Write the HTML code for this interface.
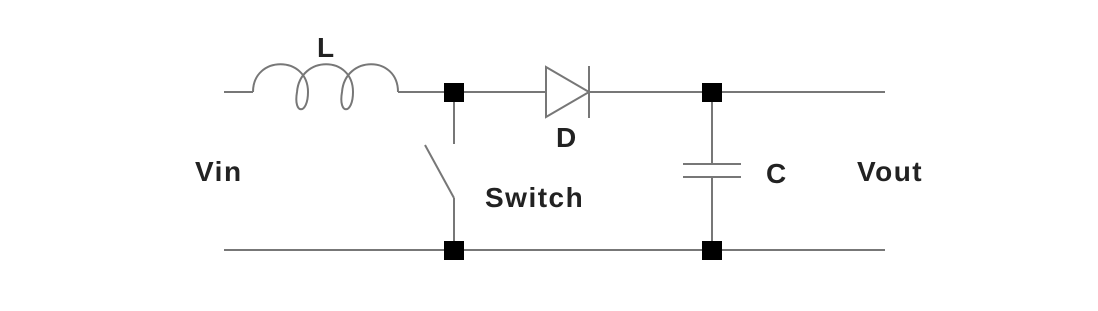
<!DOCTYPE html>
<html><head><style>body{margin:0;background:#fff}svg{display:block}</style></head><body>
<svg width="1098" height="311" viewBox="0 0 1098 311" xmlns="http://www.w3.org/2000/svg">
<g fill="none" stroke="#777" stroke-width="2">
<line x1="224" y1="92" x2="253" y2="92"/>
<path d="M253,92 C253,55 308,55 308,92 C308,115 293,115 297,92 C300,55 353,55 353,92 C353,115 338,115 342,92 C345,55 398,55 398,92"/>
<line x1="398" y1="92" x2="546" y2="92"/>
<line x1="589" y1="92" x2="885" y2="92"/>
<line x1="224" y1="250" x2="885" y2="250"/>
<line x1="454" y1="92" x2="454" y2="144"/>
<line x1="425" y1="145" x2="454" y2="198"/>
<line x1="454" y1="198" x2="454" y2="250"/>
<path d="M546,67 L589,92 L546,117 Z"/>
<line x1="589" y1="66" x2="589" y2="118"/>
<line x1="712" y1="92" x2="712" y2="164"/>
<line x1="712" y1="177" x2="712" y2="250"/>
<line x1="683" y1="164" x2="741" y2="164"/>
<line x1="683" y1="177" x2="741" y2="177"/>
</g>
<g fill="#000">
<rect x="444" y="83" width="20" height="19"/>
<rect x="444" y="241" width="20" height="19"/>
<rect x="702" y="83" width="20" height="19"/>
<rect x="702" y="241" width="20" height="19"/>
</g>
<g font-family="Liberation Sans, sans-serif" font-weight="bold" font-size="28" fill="#222" letter-spacing="1.5">
<text x="317" y="57">L</text>
<text x="556" y="147">D</text>
<text x="195" y="181">Vin</text>
<text x="485" y="207">Switch</text>
<text x="766" y="183">C</text>
<text x="857" y="181">Vout</text>
</g>
</svg>
</body></html>
